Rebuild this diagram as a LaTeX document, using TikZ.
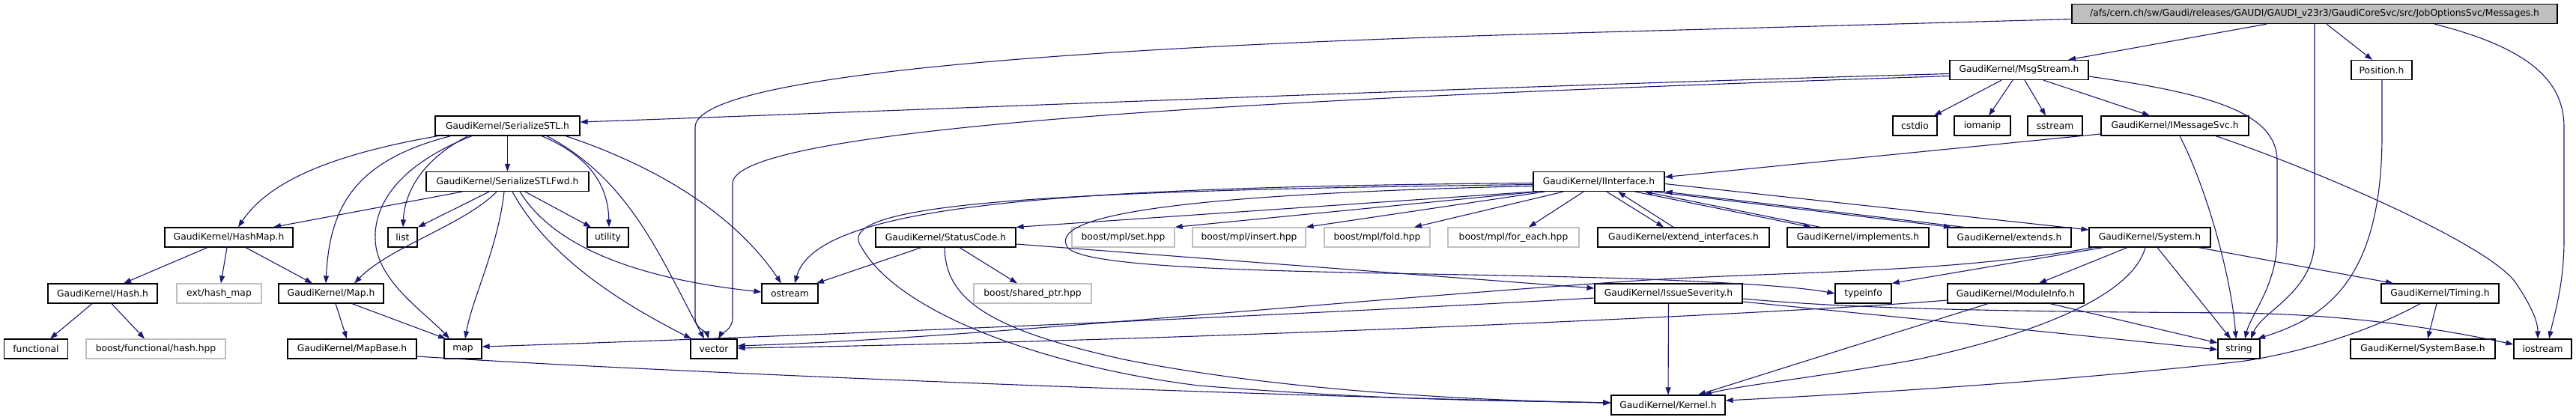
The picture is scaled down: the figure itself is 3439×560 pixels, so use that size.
\documentclass[tikz,border=0pt]{standalone}
\usepackage{fontspec}
\setmainfont{DejaVu Sans}
\usetikzlibrary{arrows.meta}
\definecolor{edgeblue}{HTML}{191970}
\definecolor{greyline}{HTML}{BFBFBF}
\begin{document}
\begin{tikzpicture}[x=1pt,y=-1pt,
 box/.style={draw=black,line width=1.2pt,fill=white,minimum height=26pt,inner sep=0pt,font=\fontsize{12.3}{14}\selectfont},
 extbox/.style={box,draw=greyline},
 rootbox/.style={box,fill=greyline},
 e/.style={draw=edgeblue,line width=1.1pt,-{Triangle[length=10pt,width=7pt]}}]
\useasboundingbox (0,0) rectangle (3439,560);
\fill[white] (0,0) rectangle (3439,560);
% rank 1
\node[rootbox,minimum width=648pt] (msg) at (3090,18.5) {/afs/cern.ch/sw/Gaudi/releases/GAUDI/GAUDI\_v23r3/GaudiCoreSvc/src/JobOptionsSvc/Messages.h};
% rank 2
\node[box,minimum width=185pt] (msgstream) at (2695.5,93.5) {GaudiKernel/MsgStream.h};
\node[box,minimum width=81pt] (position) at (3179.5,93.5) {Position.h};
% rank 3
\node[box,minimum width=193pt] (serstl) at (677.5,168) {GaudiKernel/SerializeSTL.h};
\node[box,minimum width=59pt] (cstdio) at (2556.5,168) {cstdio};
\node[box,minimum width=75pt] (iomanip) at (2646.5,168) {iomanip};
\node[box,minimum width=73pt] (sstream) at (2743.5,168) {sstream};
\node[box,minimum width=197pt] (imsg) at (2903.5,168) {GaudiKernel/IMessageSvc.h};
% rank 4
\node[box,minimum width=217pt] (serfwd) at (677.5,242.5) {GaudiKernel/SerializeSTLFwd.h};
\node[box,minimum width=175pt] (iint) at (2134.5,242.5) {GaudiKernel/IInterface.h};
% rank 5
\node[box,minimum width=171pt] (hashmap) at (305.5,317) {GaudiKernel/HashMap.h};
\node[box,minimum width=39pt] (list) at (537.5,317) {list};
\node[box,minimum width=55pt] (utility) at (811.5,317) {utility};
\node[box,minimum width=187pt] (status) at (1262.5,317) {GaudiKernel/StatusCode.h};
\node[extbox,minimum width=137pt] (mplset) at (1499.5,317) {boost/mpl/set.hpp};
\node[extbox,minimum width=151pt] (mplinsert) at (1667.5,317) {boost/mpl/insert.hpp};
\node[extbox,minimum width=141pt] (mplfold) at (1838.5,317) {boost/mpl/fold.hpp};
\node[extbox,minimum width=175pt] (mplfe) at (2020.5,317) {boost/mpl/for\_each.hpp};
\node[box,minimum width=229pt] (extint) at (2247.5,317) {GaudiKernel/extend\_interfaces.h};
\node[box,minimum width=189pt] (impl) at (2480.5,317) {GaudiKernel/implements.h};
\node[box,minimum width=165pt] (extends) at (2682.5,317) {GaudiKernel/extends.h};
\node[box,minimum width=162pt] (system) at (2870,317) {GaudiKernel/System.h};
% rank 6
\node[box,minimum width=146pt] (hash) at (137,392) {GaudiKernel/Hash.h};
\node[extbox,minimum width=113pt] (exthm) at (292.5,392) {ext/hash\_map};
\node[box,minimum width=140pt] (mapH) at (442,392) {GaudiKernel/Map.h};
\node[box,minimum width=75pt] (ostream) at (1054.5,392) {ostream};
\node[extbox,minimum width=157pt] (shptr) at (1378.5,392) {boost/shared\_ptr.hpp};
\node[box,minimum width=197pt] (issue) at (2227.5,392) {GaudiKernel/IssueSeverity.h};
\node[box,minimum width=75pt] (typeinfo) at (2487.5,392) {typeinfo};
\node[box,minimum width=182pt] (modinfo) at (2691,392) {GaudiKernel/ModuleInfo.h};
\node[box,minimum width=157pt] (timing) at (3257.5,392) {GaudiKernel/Timing.h};
% rank 7
\node[box,minimum width=85pt] (functional) at (48,466) {functional};
\node[extbox,minimum width=186pt] (bfh) at (208,466) {boost/functional/hash.hpp};
\node[box,minimum width=172pt] (mapbase) at (470,466) {GaudiKernel/MapBase.h};
\node[box,minimum width=50pt] (map) at (618,466) {map};
\node[box,minimum width=62pt] (vector) at (953,466) {vector};
\node[box,minimum width=56pt] (string) at (2989,466) {string};
\node[box,minimum width=193pt] (sysbase) at (3234.5,466) {GaudiKernel/SystemBase.h};
\node[box,minimum width=77pt] (iostream) at (3394.5,466) {iostream};
% rank 8
\node[box,minimum width=152pt] (kernel) at (2227,541) {GaudiKernel/Kernel.h};

% ---- edges: Messages.h
\draw[e] (3026,0 |- msg.south) -- (2761,0 |- msgstream.north);
\draw[e] (3106,0 |- msg.south) -- (3167,0 |- position.north);
\draw[e] ([yshift=-7pt]msg.west) -- (2100,44) .. controls (1300,66) and (928,110) .. (928,170) -- (928,425) .. controls (928,438) and (944,445) .. (946,0 |- vector.north);
\draw[e] (3090,0 |- msg.south) -- (3090,320) .. controls (3090,390) and (3020,415) .. (3005,0 |- string.north);
\draw[e] (3250,0 |- msg.south) .. controls (3380,65) and (3423,110) .. (3423,170) -- (3423,320) .. controls (3423,380) and (3410,420) .. (3403,0 |- iostream.north);
% ---- MsgStream.h
\draw[e] ([yshift=-5pt]msgstream.west) .. controls (2000,115) and (1200,148) .. ([yshift=5pt]serstl.east);
\draw[e] ([yshift=-8pt]msgstream.west) .. controls (1900,125) and (978,160) .. (978,245) -- (978,425) .. controls (978,440) and (962,447) .. (959,0 |- vector.north);
\draw[e] (2672,0 |- msgstream.south) -- (2582,0 |- cstdio.north);
\draw[e] (2687,0 |- msgstream.south) -- (2655,0 |- iomanip.north);
\draw[e] (2703,0 |- msgstream.south) -- (2731,0 |- sstream.north);
\draw[e] (2728,0 |- msgstream.south) -- (2870,0 |- imsg.north);
\draw[e] ([yshift=-8.5pt]msgstream.east) .. controls (2950,125) and (3040,150) .. (3040,215) -- (3040,320) .. controls (3040,380) and (3005,420) .. (2997,0 |- string.north);
% ---- Position.h
\draw[e] (3180,0 |- position.south) -- (3180,180) .. controls (3180,380) and (3100,425) .. (3014,0 |- string.north);
% ---- IMessageSvc.h
\draw[e] ([yshift=-11pt]imsg.west) -- ([yshift=6pt]iint.east);
\draw[e] (2910,0 |- imsg.south) .. controls (2950,260) and (2980,380) .. (2985,0 |- string.north);
\draw[e] (2958,0 |- imsg.south) .. controls (3100,230) and (3330,330) .. (3360,380) .. controls (3380,410) and (3388,430) .. (3388,0 |- iostream.north);
% ---- SerializeSTL.h
\draw[e] (585,0 |- serstl.south) .. controls (450,205) and (360,240) .. (318,0 |- hashmap.north);
\draw[e] (602,0 |- serstl.south) .. controls (470,215) and (440,280) .. (435,0 |- mapH.north);
\draw[e] (630,0 |- serstl.south) .. controls (520,225) and (495,285) .. (502,330) .. controls (510,380) and (570,420) .. (600,0 |- map.north);
\draw[e] (625,0 |- serstl.south) .. controls (560,215) and (540,260) .. (538,0 |- list.north);
\draw[e] (serstl) -- (serfwd);
\draw[e] (723,0 |- serstl.south) .. controls (790,210) and (812,250) .. (813,0 |- utility.north);
\draw[e] (730,0 |- serstl.south) .. controls (840,240) and (880,340) .. (940,0 |- vector.north);
\draw[e] (755,0 |- serstl.south) .. controls (900,230) and (990,300) .. (1043,0 |- ostream.north);
% ---- SerializeSTLFwd.h
\draw[e] (617,0 |- serfwd.south) -- (365,0 |- hashmap.north);
\draw[e] (653,0 |- serfwd.south) -- (558,0 |- list.north);
\draw[e] (663,0 |- serfwd.south) .. controls (620,300) and (520,330) .. (473,0 |- mapH.north);
\draw[e] (673,0 |- serfwd.south) .. controls (665,330) and (630,400) .. (621,0 |- map.north);
\draw[e] (684,0 |- serfwd.south) .. controls (730,340) and (820,400) .. (923,0 |- vector.north);
\draw[e] (694,0 |- serfwd.south) .. controls (740,330) and (850,372) .. ([yshift=2pt]ostream.west);
\draw[e] (701,0 |- serfwd.south) -- (789,0 |- utility.north);
% ---- HashMap.h, Hash.h, Map.h, MapBase.h
\draw[e] (277,0 |- hashmap.south) -- (165,0 |- hash.north);
\draw[e] (303,0 |- hashmap.south) -- (295,0 |- exthm.north);
\draw[e] (328,0 |- hashmap.south) -- (417,0 |- mapH.north);
\draw[e] (123,0 |- hash.south) -- (67,0 |- functional.north);
\draw[e] (149,0 |- hash.south) -- (193,0 |- bfh.north);
\draw[e] (448,0 |- mapH.south) -- (463,0 |- mapbase.north);
\draw[e] (470,0 |- mapH.south) -- (595,0 |- map.north);
\draw[e] ([yshift=-10pt]mapbase.east) .. controls (900,498) and (1700,530) .. ([yshift=3pt]kernel.west);
% ---- IInterface.h
\draw[e] ([yshift=-2pt]iint.west) .. controls (1400,250) and (1090,275) .. (1061,0 |- ostream.north);
\draw[e] ([yshift=-4pt]iint.west) .. controls (1350,255) and (1110,275) .. (1150,330) .. controls (1200,420) and (1400,490) .. (1600,515) .. controls (1850,535) and (2000,535) .. ([yshift=3pt]kernel.west);
\draw[e] ([yshift=-6pt]iint.west) .. controls (1550,260) and (1400,290) .. (1425,330) .. controls (1450,368) and (1900,362) .. (2200,373) .. controls (2320,378) and (2400,383) .. (typeinfo.west);
\draw[e] (iint.south west) -- (status.north east);
\draw[e] ([xshift=6pt]iint.south west) -- (mplset.north east);
\draw[e] (2062,0 |- iint.south) -- (mplinsert.north east);
\draw[e] (2087,0 |- iint.south) -- (1888,0 |- mplfold.north);
\draw[e] (2114,0 |- iint.south) -- (2041,0 |- mplfe.north);
\draw[e] (2145,0 |- iint.south) -- (2221,0 |- extint.north);
\draw[e] (2234,0 |- extint.north) -- (2160,0 |- iint.south);
\draw[e] (2183,0 |- iint.south) -- (2418,0 |- impl.north);
\draw[e] (2430,0 |- impl.north) -- (2196,0 |- iint.south);
\draw[e] (2208,0 |- iint.south) -- (2605,0 |- extends.north);
\draw[e] (2622,0 |- extends.north) -- (iint.south east);
\draw[e] ([yshift=-3pt]iint.east) -- ([yshift=10pt]system.west);
% ---- StatusCode.h
\draw[e] (1230,0 |- status.south) -- (1090,0 |- ostream.north);
\draw[e] (1281,0 |- status.south) -- (1358,0 |- shptr.north);
\draw[e] (1261,0 |- status.south) .. controls (1262,400) and (1320,440) .. (1500,480) .. controls (1700,520) and (1950,535) .. ([yshift=3pt]kernel.west);
\draw[e] ([yshift=-9pt]status.east) -- ([yshift=7pt]issue.west);
% ---- IssueSeverity.h
\draw[e] ([yshift=-6pt]issue.west) .. controls (1600,428) and (900,455) .. ([yshift=3pt]map.east);
\draw[e] (issue) -- (kernel);
\draw[e] ([yshift=-11pt]issue.east) .. controls (2600,430) and (2800,450) .. ([yshift=-1pt]string.west);
\draw[e] ([yshift=-7pt]issue.east) .. controls (2450,410) and (2600,416) .. (2990,418) .. controls (3150,421) and (3260,440) .. ([yshift=6pt]iostream.west);
% ---- System.h
\draw[e] ([xshift=6pt]system.south west) .. controls (2600,365) and (2400,362) .. (2200,374) .. controls (1800,400) and (1300,452) .. ([yshift=4pt]vector.east);
\draw[e] (2808,0 |- system.south) -- (typeinfo.north east);
\draw[e] (2840,0 |- system.south) -- (2722,0 |- modinfo.north);
\draw[e] (2864,0 |- system.south) .. controls (2845,400) and (2700,450) .. (2560,480) .. controls (2420,505) and (2320,515) .. (2275,0 |- kernel.north);
\draw[e] (2880,0 |- system.south) -- (2978,0 |- string.north);
\draw[e] (2935,0 |- system.south) -- (3195,0 |- timing.north);
% ---- ModuleInfo.h
\draw[e] ([yshift=-9pt]modinfo.west) .. controls (2400,418) and (1600,455) .. ([yshift=1pt]vector.east);
\draw[e] (2654,0 |- modinfo.south) -- (2267,0 |- kernel.north);
\draw[e] (2737,0 |- modinfo.south) -- ([yshift=8pt]string.west);
% ---- Timing.h
\draw[e] (3253,0 |- timing.south) -- (3241,0 |- sysbase.north);
\draw[e] (3231,0 |- timing.south) .. controls (3150,450) and (3050,475) .. (2990,483) .. controls (2700,515) and (2400,530) .. ([yshift=6pt]kernel.east);
\end{tikzpicture}
\end{document}
